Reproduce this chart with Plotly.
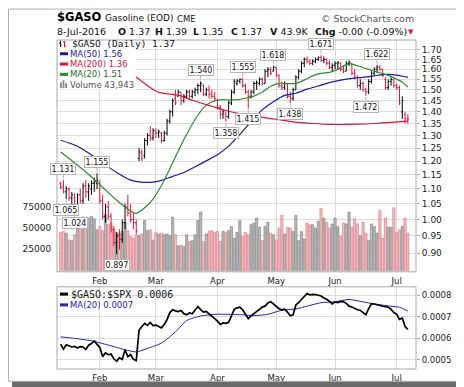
import math
import pandas as pd
import plotly.graph_objects as go

# ---------------- data ----------------
holidays = ["2016-01-18", "2016-02-15", "2016-03-25", "2016-05-30", "2016-07-04"]
dates = [d.strftime("%Y-%m-%d") for d in
         pd.bdate_range("2016-01-11", "2016-07-08", freq="C", holidays=holidays)]

opens = [1.12, 1.11, 1.09, 1.10, 1.07, 1.07, 1.04, 1.08, 1.06, 1.11,
         1.09, 1.10, 1.12, 1.12, 1.12, 1.06, 1.01, 1.04, 1.01, 0.97,
         0.93, 0.95, 0.94, 0.99, 1.04, 1.02, 1.00, 0.99, 1.21, 1.23,
         1.22, 1.28, 1.30, 1.29, 1.32, 1.31, 1.31, 1.28, 1.31, 1.36,
         1.40, 1.46, 1.47, 1.49, 1.45, 1.47, 1.49, 1.47, 1.49, 1.50,
         1.52, 1.52, 1.48, 1.50, 1.48, 1.47, 1.45, 1.42, 1.39, 1.39,
         1.38, 1.44, 1.49, 1.53, 1.54, 1.55, 1.52, 1.49, 1.47, 1.49,
         1.53, 1.53, 1.55, 1.53, 1.59, 1.60, 1.59, 1.61, 1.57, 1.52,
         1.51, 1.53, 1.47, 1.46, 1.50, 1.56, 1.59, 1.63, 1.65, 1.64,
         1.63, 1.64, 1.65, 1.66, 1.645, 1.65, 1.63, 1.61, 1.62, 1.63,
         1.63, 1.60, 1.59, 1.63, 1.63, 1.58, 1.56, 1.52, 1.53, 1.50,
         1.49, 1.54, 1.58, 1.60, 1.61, 1.60, 1.55, 1.51, 1.54, 1.55,
         1.52, 1.51, 1.40, 1.39, 1.37]
highs = [1.125, 1.131, 1.11, 1.105, 1.09, 1.085, 1.085, 1.10, 1.12, 1.13,
         1.12, 1.13, 1.14, 1.155, 1.13, 1.08, 1.05, 1.06, 1.02, 0.98,
         0.96, 0.97, 1.00, 1.05, 1.08, 1.05, 1.02, 1.00, 1.25, 1.245,
         1.29, 1.31, 1.34, 1.33, 1.33, 1.325, 1.315, 1.32, 1.37, 1.41,
         1.46, 1.50, 1.50, 1.49, 1.48, 1.50, 1.50, 1.50, 1.51, 1.53,
         1.54, 1.525, 1.51, 1.52, 1.50, 1.49, 1.46, 1.43, 1.41, 1.40,
         1.45, 1.50, 1.55, 1.55, 1.553, 1.555, 1.53, 1.50, 1.50, 1.54,
         1.545, 1.56, 1.56, 1.60, 1.61, 1.61, 1.618, 1.61, 1.575, 1.54,
         1.54, 1.53, 1.49, 1.51, 1.57, 1.60, 1.64, 1.66, 1.665, 1.65,
         1.65, 1.66, 1.665, 1.671, 1.665, 1.655, 1.645, 1.63, 1.64, 1.64,
         1.635, 1.62, 1.64, 1.645, 1.63, 1.60, 1.57, 1.55, 1.54, 1.51,
         1.55, 1.59, 1.61, 1.622, 1.62, 1.60, 1.56, 1.55, 1.56, 1.55,
         1.53, 1.52, 1.47, 1.40, 1.39]
lows = [1.10, 1.085, 1.065, 1.06, 1.045, 1.024, 1.03, 1.05, 1.05, 1.07,
        1.06, 1.08, 1.09, 1.10, 1.05, 1.00, 0.99, 1.00, 0.96, 0.92,
        0.897, 0.91, 0.93, 0.97, 1.01, 0.99, 0.97, 0.955, 1.20, 1.20,
        1.21, 1.26, 1.28, 1.28, 1.29, 1.29, 1.27, 1.275, 1.30, 1.35,
        1.38, 1.43, 1.47, 1.43, 1.44, 1.46, 1.46, 1.46, 1.47, 1.48,
        1.49, 1.47, 1.47, 1.46, 1.46, 1.45, 1.41, 1.37, 1.37, 1.358,
        1.37, 1.43, 1.48, 1.52, 1.53, 1.51, 1.48, 1.415, 1.46, 1.48,
        1.50, 1.52, 1.52, 1.53, 1.56, 1.57, 1.59, 1.56, 1.51, 1.50,
        1.50, 1.46, 1.438, 1.45, 1.50, 1.55, 1.58, 1.61, 1.63, 1.62,
        1.62, 1.63, 1.64, 1.635, 1.63, 1.62, 1.60, 1.59, 1.60, 1.60,
        1.59, 1.58, 1.59, 1.615, 1.57, 1.55, 1.51, 1.50, 1.49, 1.472,
        1.48, 1.53, 1.57, 1.58, 1.59, 1.56, 1.50, 1.50, 1.52, 1.51,
        1.50, 1.43, 1.37, 1.35, 1.35]
closes = [1.105, 1.09, 1.10, 1.07, 1.08, 1.04, 1.08, 1.06, 1.11, 1.09,
          1.11, 1.12, 1.125, 1.13, 1.06, 1.01, 1.04, 1.01, 0.97, 0.93,
          0.95, 0.94, 0.99, 1.04, 1.02, 1.00, 0.99, 0.965, 1.235, 1.21,
          1.28, 1.30, 1.29, 1.32, 1.31, 1.315, 1.28, 1.31, 1.36, 1.40,
          1.45, 1.44, 1.49, 1.45, 1.47, 1.49, 1.47, 1.49, 1.50, 1.52,
          1.53, 1.48, 1.50, 1.48, 1.47, 1.46, 1.42, 1.39, 1.40, 1.38,
          1.44, 1.49, 1.54, 1.545, 1.55, 1.52, 1.49, 1.47, 1.49, 1.53,
          1.535, 1.55, 1.53, 1.59, 1.60, 1.58, 1.61, 1.57, 1.52, 1.51,
          1.53, 1.47, 1.46, 1.50, 1.56, 1.59, 1.63, 1.65, 1.64, 1.63,
          1.64, 1.65, 1.66, 1.645, 1.65, 1.63, 1.61, 1.62, 1.63, 1.635,
          1.60, 1.59, 1.63, 1.635, 1.58, 1.56, 1.52, 1.53, 1.50, 1.49,
          1.54, 1.58, 1.60, 1.61, 1.60, 1.57, 1.51, 1.54, 1.55, 1.52,
          1.51, 1.44, 1.45, 1.371, 1.3698]
volumes = [45000, 46000, 44000, 36000, 35000, 42000, 56000, 58000, 63000, 60000,
           62000, 64000, 61000, 48000, 52000, 47000, 66000, 54000, 56000, 49000,
           45000, 44000, 46000, 57000, 47000, 40000, 38000, 42000, 41000, 43000,
           59000, 47000, 48000, 36000, 45000, 43000, 44000, 42000, 43000, 41000,
           63000, 42000, 29000, 30000, 28000, 42000, 34000, 35000, 42000, 59000,
           69000, 34000, 43000, 46000, 47000, 45000, 46000, 34000, 46000, 45000,
           47000, 52000, 38000, 45000, 59000, 40000, 45000, 42000, 54000, 56000,
           62000, 51000, 35000, 52000, 57000, 44000, 42000, 36000, 50000, 65000,
           43000, 51000, 50000, 46000, 65000, 35000, 46000, 37000, 56000, 54000,
           54000, 50000, 58000, 73000, 62000, 57000, 50000, 55000, 62000, 52000,
           40000, 56000, 55000, 69000, 51000, 61000, 55000, 41000, 57000, 44000,
           35000, 55000, 52000, 44000, 71000, 38000, 62000, 51000, 51000, 74000,
           45000, 48000, 52000, 62000, 43943]

ma20_idx = [0, 5, 10, 15, 20, 25, 27, 30, 33, 36, 39, 42, 45, 48, 51, 54, 57, 60, 63, 66,
            69, 72, 75, 78, 81, 84, 87, 90, 93, 96, 99, 102, 104, 107, 110, 113, 116, 119, 122, 124]
ma20_val = [1.235, 1.194, 1.151, 1.106, 1.062, 1.027, 1.019, 1.037, 1.066, 1.112, 1.172, 1.239,
            1.305, 1.367, 1.418, 1.445, 1.454, 1.454, 1.454, 1.461, 1.471, 1.490, 1.517, 1.531,
            1.529, 1.531, 1.546, 1.567, 1.579, 1.584, 1.599, 1.623, 1.626, 1.613, 1.599, 1.586,
            1.574, 1.557, 1.536, 1.513]
ma50_idx = [0, 5, 10, 15, 20, 25, 28, 33, 36, 40, 44, 48, 52, 56, 60, 64, 68, 72, 76, 80,
            84, 88, 92, 96, 100, 104, 108, 112, 116, 120, 124]
ma50_val = [1.281, 1.262, 1.231, 1.194, 1.158, 1.131, 1.125, 1.124, 1.130, 1.144, 1.158, 1.179,
            1.201, 1.224, 1.258, 1.305, 1.358, 1.409, 1.445, 1.474, 1.484, 1.503, 1.518, 1.534,
            1.546, 1.555, 1.560, 1.567, 1.574, 1.571, 1.560]
ma200_idx = [0, 10, 20, 27, 31, 35, 42, 47, 54, 59, 66, 71, 78, 83, 90, 97, 106, 112, 118, 124]
ma200_val = [1.80, 1.71, 1.62, 1.56, 1.52, 1.488, 1.475, 1.452, 1.425, 1.406, 1.388, 1.378,
             1.366, 1.357, 1.350, 1.346, 1.347, 1.350, 1.355, 1.360]

ratio = [5.73e-4, 5.50e-4, 5.70e-4, 5.66e-4, 5.60e-4, 5.63e-4, 5.55e-4, 5.62e-4, 5.60e-4, 5.48e-4,
         5.68e-4, 5.76e-4, 5.88e-4, 5.72e-4, 5.58e-4, 5.15e-4, 5.32e-4, 5.24e-4, 5.27e-4, 5.05e-4,
         4.93e-4, 5.10e-4, 5.02e-4, 5.47e-4, 5.15e-4, 5.25e-4, 5.02e-4, 4.97e-4, 6.38e-4, 6.55e-4,
         6.70e-4, 6.60e-4, 6.74e-4, 6.60e-4, 6.62e-4, 6.55e-4, 6.49e-4, 6.65e-4, 6.87e-4, 7.20e-4,
         7.33e-4, 7.28e-4, 7.25e-4, 7.30e-4, 7.15e-4, 7.10e-4, 7.18e-4, 7.14e-4, 7.30e-4, 7.48e-4,
         7.34e-4, 7.22e-4, 7.25e-4, 7.15e-4, 7.02e-4, 6.92e-4, 6.80e-4, 6.65e-4, 6.72e-4, 6.70e-4,
         6.75e-4, 7.05e-4, 7.35e-4, 7.42e-4, 7.45e-4, 7.33e-4, 7.15e-4, 6.92e-4, 7.05e-4, 7.15e-4,
         7.21e-4, 7.35e-4, 7.46e-4, 7.50e-4, 7.65e-4, 7.71e-4, 7.60e-4, 7.48e-4, 7.38e-4, 7.33e-4,
         7.36e-4, 7.22e-4, 7.05e-4, 7.10e-4, 7.55e-4, 7.67e-4, 7.80e-4, 7.92e-4, 8.09e-4, 8.02e-4,
         8.05e-4, 8.04e-4, 8.02e-4, 7.97e-4, 7.88e-4, 7.82e-4, 7.72e-4, 7.60e-4, 7.70e-4, 7.67e-4,
         7.72e-4, 7.70e-4, 7.63e-4, 7.50e-4, 7.46e-4, 7.38e-4, 7.33e-4, 7.30e-4, 7.22e-4, 7.10e-4,
         7.38e-4, 7.62e-4, 7.60e-4, 7.56e-4, 7.53e-4, 7.50e-4, 7.48e-4, 7.45e-4, 7.35e-4, 7.20e-4,
         7.12e-4, 6.88e-4, 6.95e-4, 6.55e-4, 6.42e-4]
rma20_idx = [0, 5, 11, 17, 23, 27, 31, 36, 41, 45, 50, 55, 60, 65, 69, 74, 79, 84, 88, 93,
             98, 103, 108, 112, 117, 121, 124]
rma20_val = [6.07e-4, 6.00e-4, 5.89e-4, 5.69e-4, 5.47e-4, 5.37e-4, 5.53e-4, 5.78e-4, 6.30e-4,
             6.83e-4, 7.04e-4, 7.12e-4, 7.12e-4, 7.10e-4, 7.06e-4, 7.12e-4, 7.31e-4, 7.37e-4,
             7.50e-4, 7.66e-4, 7.70e-4, 7.81e-4, 7.70e-4, 7.60e-4, 7.51e-4, 7.45e-4, 7.27e-4]

label_idx = [1, 2, 5, 13, 20, 50, 59, 65, 67, 76, 82, 93, 109, 113]
label_val = [1.131, 1.065, 1.024, 1.155, 0.897, 1.540, 1.358, 1.555, 1.415, 1.618, 1.438,
             1.671, 1.472, 1.622]
label_pos = ["hi", "lo", "lo", "hi", "lo", "hi", "lo", "hi", "lo", "hi", "lo", "hi", "lo", "hi"]

month_starts = ["2016-02-01", "2016-03-01", "2016-04-01", "2016-05-02", "2016-06-01", "2016-07-01"]
month_labels = ["Feb", "Mar", "Apr", "May", "Jun", "Jul"]
price_ticks = [0.90, 0.95, 1.00, 1.05, 1.10, 1.15, 1.20, 1.25, 1.30, 1.35, 1.40, 1.45,
               1.50, 1.55, 1.60, 1.65, 1.70]
vol_ticks = [25000, 50000, 75000]
ratio_ticks = [0.0005, 0.0006, 0.0007, 0.0008]

# ---------------- styles ----------------
RED = "#e0143c"
NAVY = "#1c1c9a"
GREEN = "#2f8a2f"
CRIMSON = "#dc143c"
FONT = "DejaVu Sans"
W, H = 464, 387
L, R, T, B = 49, 408, 32, 367


def px(x):
    return (x - L) / (R - L)


def py(y):
    return (B - y) / (B - T)


main_bottom = py(268)
lower_top = py(283.3)

n = len(dates)
up = [closes[0] >= opens[0]] + [closes[i] >= closes[i - 1] for i in range(1, n)]


def sub(arr, mask):
    return [a for a, m in zip(arr, mask) if m]


down = [not u for u in up]

fig = go.Figure()

# volume (base axis, drawn beneath price)
fig.add_trace(go.Bar(
    x=dates, y=volumes, xaxis="x", yaxis="y", width=0.8,
    marker=dict(color=["#b9b9b9" if u else "#f2bcc1" for u in up],
                line=dict(color=["#7c7c7c" if u else "#d9737f" for u in up], width=0.6)),
    hoverinfo="skip"))

# MAs
fig.add_trace(go.Scatter(x=[dates[i] for i in ma200_idx], y=ma200_val, mode="lines",
                         line=dict(color=CRIMSON, width=1.2, shape="spline", smoothing=0.6),
                         xaxis="x", yaxis="y2"))
fig.add_trace(go.Scatter(x=[dates[i] for i in ma50_idx], y=ma50_val, mode="lines",
                         line=dict(color=NAVY, width=1.2, shape="spline", smoothing=0.6),
                         xaxis="x", yaxis="y2"))
fig.add_trace(go.Scatter(x=[dates[i] for i in ma20_idx], y=ma20_val, mode="lines",
                         line=dict(color=GREEN, width=1.2, shape="spline", smoothing=0.6),
                         xaxis="x", yaxis="y2"))

# price bars
for mask, col in ((up, "black"), (down, RED)):
    fig.add_trace(go.Ohlc(
        x=sub(dates, mask), open=sub(opens, mask), high=sub(highs, mask),
        low=sub(lows, mask), close=sub(closes, mask), xaxis="x", yaxis="y2",
        increasing=dict(line=dict(color=col, width=1)),
        decreasing=dict(line=dict(color=col, width=1)),
        tickwidth=0.45, hoverinfo="skip"))

# relative ratio panel
fig.add_trace(go.Scatter(x=[dates[i] for i in rma20_idx], y=rma20_val, mode="lines",
                         line=dict(color="#2323b4", width=1, shape="spline", smoothing=0.6),
                         xaxis="x2", yaxis="y3"))
fig.add_trace(go.Scatter(x=dates, y=ratio, mode="lines", line=dict(color="black", width=1.7),
                         xaxis="x2", yaxis="y3"))

# ---------------- annotations ----------------
ann = []


def text(x, y, s, size=9, color="#111", anchor="left", family=FONT, bg=None):
    d = dict(x=px(x), y=py(y), xref="paper", yref="paper", text=s, showarrow=False,
             xanchor=anchor, yanchor="middle", font=dict(size=size, color=color, family=family),
             borderpad=0)
    if bg:
        d["bgcolor"] = bg
    ann.append(d)


# header
text(48, 9, "<b>$GASO</b>", size=11.5, color="black")
text(96, 10, "Gasoline (EOD)", size=9)
text(168, 10.5, "CME", size=8.5)
text(407, 10, "© StockCharts.com", size=9.5, color="#555", anchor="right")
text(48, 23, "8-Jul-2016", size=9.5)
text(109, 23, "<b>O</b> 1.37", size=9.5)
text(146, 23, "<b>H</b> 1.39", size=9.5)
text(184, 23, "<b>L</b> 1.35", size=9.5)
text(222, 23, "<b>C</b> 1.37", size=9.5)
text(261, 23, "<b>V</b> 43.9K", size=9.5)
text(306, 23, "<b>Chg</b> -0.00 (-0.09%)", size=9.5)
text(399, 23.5, "▼", size=7, color=CRIMSON)

# legend (main)
text(63, 35.5, "$GASO (Daily) 1.37", size=9.5, family="DejaVu Sans Mono", color="#111")
text(61, 46, "MA(50) 1.56", size=8.5, color=NAVY)
text(61, 56.5, "MA(200) 1.36", size=8.5, color=CRIMSON)
text(61, 67, "MA(20) 1.51", size=8.5, color="#1f6f1f")
text(61, 77.5, "Volume 43,943", size=8.5, color="#555")
# legend (lower)
text(62, 290.7, "$GASO:$SPX 0.0006", size=10, family="DejaVu Sans Mono", color="#111")
text(61, 301.7, "MA(20) 0.0007", size=8.5, color="#2323b4")

# price callouts
for i, v, pos in zip(label_idx, label_val, label_pos):
    ann.append(dict(x=dates[i], y=math.log10(v), xref="x", yref="y2", text=f"{v:.3f}",
                    showarrow=True, arrowhead=0, arrowwidth=1, arrowcolor="#b5b5b5",
                    ax=0, ay=-11 if pos == "hi" else 11, standoff=1,
                    bgcolor="white", bordercolor="#b5b5b5", borderwidth=1, borderpad=0.5,
                    font=dict(size=8, color="#111", family=FONT)))

# ---------------- shapes ----------------
shapes = []


def rect(x0, y0, x1, y1, fill=None, line=None, lw=1, layer="above"):
    shapes.append(dict(type="rect", xref="paper", yref="paper", x0=px(x0), x1=px(x1),
                       y0=py(y1), y1=py(y0), fillcolor=fill or "rgba(0,0,0,0)",
                       line=dict(color=line or "rgba(0,0,0,0)", width=lw if line else 0),
                       layer=layer))


def seg(x0, y0, x1, y1, color, w=1):
    shapes.append(dict(type="line", xref="paper", yref="paper", x0=px(x0), x1=px(x1),
                       y0=py(y0), y1=py(y1), line=dict(color=color, width=w), layer="above"))


# legend backgrounds
rect(49.5, 32.5, 128, 82.5, fill="white")
rect(49.5, 32.5, 172, 40.5, fill="white")
# legend icons
seg(52.5, 32.5, 52.5, 39, "black", 1)
seg(51, 35, 52.5, 35, "black", 1)
seg(52.5, 37, 54, 37, RED, 1)
seg(56.5, 33, 56.5, 39.5, RED, 1)
seg(55, 34, 56.5, 34, RED, 1)
seg(56.5, 38, 58, 38, RED, 1)
seg(52, 46, 60, 46, NAVY, 3)
seg(52, 56.5, 60, 56.5, CRIMSON, 3)
seg(52, 67, 60, 67, GREEN, 3)
rect(52, 75, 53.8, 81, fill="#888")
rect(54.6, 73, 56.4, 81, fill="#888")
rect(57.2, 76, 59, 81, fill="#888")
seg(52, 290.7, 60, 290.7, "black", 3)
seg(52, 301.7, 60, 301.7, "#2323b4", 3)

# panel frames
rect(49, 32, 408, 268, line="#a8a8a8")
rect(49, 283.3, 408, 367, line="#a8a8a8")
# outer frame with shadow
rect(0.5, 0.5, 460.5, 379.5, line="#b0b0b0")
rect(461, 4, 464, 386, fill="#6a6a6a")
rect(4, 380, 464, 386, fill="#6a6a6a")

# ---------------- layout ----------------
axis_common = dict(type="category", categoryorder="array", categoryarray=dates,
                   range=[-1.3, 126.9], tickvals=month_starts, ticktext=month_labels,
                   showgrid=True, gridcolor="#dcdcdc", gridwidth=1, ticks="outside",
                   ticklen=1, tickcolor="rgba(0,0,0,0)", tickfont=dict(size=8.5, color="#222"),
                   showline=False, zeroline=False)

fig.update_layout(
    width=W, height=H, autosize=False,
    margin=dict(l=L, r=W - R, t=T, b=H - B, pad=0),
    paper_bgcolor="white", plot_bgcolor="white",
    showlegend=False,
    font=dict(family=FONT, size=9, color="#222"),
    xaxis=dict(**axis_common, anchor="y", domain=[0, 1], rangeslider=dict(visible=False)),
    xaxis2=dict(**axis_common, anchor="y3", domain=[0, 1], matches="x"),
    yaxis=dict(domain=[main_bottom, 1], range=[-1700, 272700], side="left",
               tickvals=vol_ticks, ticktext=[str(v) for v in vol_ticks],
               showgrid=False, zeroline=False, ticks="outside", ticklen=3,
               tickcolor="rgba(0,0,0,0)", tickfont=dict(size=9, color="#222")),
    yaxis2=dict(overlaying="y", side="right", anchor="x", type="log",
                range=[math.log10(0.849), math.log10(1.753)],
                tickvals=price_ticks, ticktext=[f"{v:.2f}" for v in price_ticks],
                showgrid=True, gridcolor="#dcdcdc", zeroline=False, ticks="outside",
                ticklen=3, tickcolor="#aaaaaa", tickfont=dict(size=9, color="#222")),
    yaxis3=dict(domain=[0, lower_top], side="right", anchor="x2",
                range=[0.0004575, 0.000840], tickvals=ratio_ticks,
                ticktext=[f"{v:.4f}" for v in ratio_ticks],
                showgrid=True, gridcolor="#dcdcdc", zeroline=False, ticks="outside",
                ticklen=3, tickcolor="#aaaaaa", tickfont=dict(size=8.5, color="#222")),
    annotations=ann,
    shapes=shapes,
)

fig.write_html("out.html")
